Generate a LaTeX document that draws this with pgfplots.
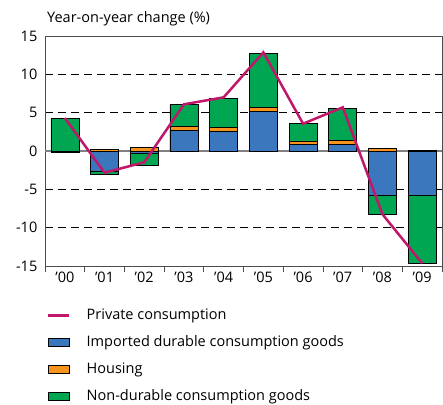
\documentclass[border=0pt]{standalone}
\usepackage{pgfplots}
\pgfplotsset{compat=1.18}
\usepackage{fontspec}
\setmainfont{Open Sans}
\definecolor{cblue}{HTML}{3B77BC}
\definecolor{corange}{HTML}{F7941E}
\definecolor{cgreen}{HTML}{00A651}
\definecolor{cmag}{HTML}{C0176B}
\begin{document}
\fontsize{14.5bp}{17bp}\selectfont
\begin{tikzpicture}
\begin{axis}[
  scale only axis, width=397bp, height=230bp,
  xmin=-0.5, xmax=9.5, ymin=-15, ymax=15,
  ybar, bar width=28bp, bar shift=0pt,
  xtick={0,...,9},
  xticklabels={’00,’01,’02,’03,’04,’05,’06,’07,’08,’09},
  minor xtick={-0.5,0.5,...,9.5},
  major tick length=0pt, minor tick length=6bp,
  tick align=outside, xtick pos=lower, ytick pos=left,
  minor tick style={gray!60!black, line width=0.8bp},
  ytick={-15,-10,-5,0,5,10,15},
  yticklabels={-15,-10,-5,0,5,10,15},
  yticklabel style={inner sep=0pt, xshift=-7.5bp},
  xticklabel style={inner sep=0pt, yshift=-6bp},
  ymajorgrids,
  grid style={black, line width=0.7bp, dash pattern=on 8bp off 5bp},
  extra y ticks={0}, extra y tick labels={},
  extra y tick style={grid=major, grid style={solid, gray, line width=1.3bp}},
  axis line style={gray!60!black, line width=0.8bp},
  legend image code/.code={},
  legend style={at={(0,0)}, anchor=north west, xshift=2bp, yshift=-43bp,
    draw=none, fill=none, inner sep=0pt, row sep=14bp,
    nodes={inner sep=0pt, text height=10bp, text depth=3bp},
    /tikz/every odd column/.append style={column sep=16bp},
    font=\fontsize{14.5bp}{17bp}\selectfont},
  legend cell align=left,
]
\addlegendimage{legend image code/.code={\draw[cmag, line width=2.5bp] (0bp,0bp) -- (21bp,0bp);}}
\addlegendimage{legend image code/.code={\draw[fill=cblue, draw=black, line width=0.8bp] (0bp,-4bp) rectangle (21bp,4bp);}}
\addlegendimage{legend image code/.code={\draw[fill=corange, draw=black, line width=0.8bp] (0bp,-4bp) rectangle (21bp,4bp);}}
\addlegendimage{legend image code/.code={\draw[fill=cgreen, draw=black, line width=0.8bp] (0bp,-4bp) rectangle (21bp,4bp);}}
\legend{Private consumption, Imported durable consumption goods, Housing, Non-durable consumption goods}

% positive side: cumulative tops (green top, orange top, blue top)
\addplot[fill=cgreen, draw=black, line width=0.7bp, forget plot] coordinates
 {(0,4.3) (1,0.2) (2,0.48) (3,6.1) (4,6.85) (5,12.74) (6,3.6) (7,5.6) (8,0.35) (9,0.05)};
\addplot[fill=corange, draw=black, line width=0.7bp, forget plot] coordinates
 {(1,0.2) (2,0.48) (3,3.17) (4,3.05) (5,5.7) (6,1.32) (7,1.35) (8,0.35) (9,0.05)};
\addplot[fill=cblue, draw=black, line width=0.7bp, forget plot] coordinates
 {(3,2.7) (4,2.5) (5,5.2) (6,0.85) (7,0.9)};
% negative side: cumulative bottoms (green bottom, blue bottom)
\addplot[fill=cgreen, draw=black, line width=0.7bp, forget plot] coordinates
 {(1,-3.05) (2,-1.87) (8,-8.25) (9,-14.65)};
\addplot[fill=cblue, draw=black, line width=0.7bp, forget plot] coordinates
 {(0,-0.2) (1,-2.65) (2,-0.25) (8,-5.83) (9,-5.75)};
% private consumption
\addplot[sharp plot, cmag, line width=2.5bp, mark=none, forget plot] coordinates
 {(0,4.3) (1,-2.83) (2,-1.47) (3,6.09) (4,7.0) (5,12.87) (6,3.56) (7,5.7) (8,-8.25) (9,-14.65)};
\end{axis}
\node[anchor=base west, inner sep=0pt] at ([shift={(2bp,14bp)}]current axis.north west) {Year-on-year change (\%)};
\pgfresetboundingbox
\path ([shift={(-45bp,-138bp)}]current axis.south west) rectangle ([shift={(1bp,36bp)}]current axis.north east);
\end{tikzpicture}
\end{document}
